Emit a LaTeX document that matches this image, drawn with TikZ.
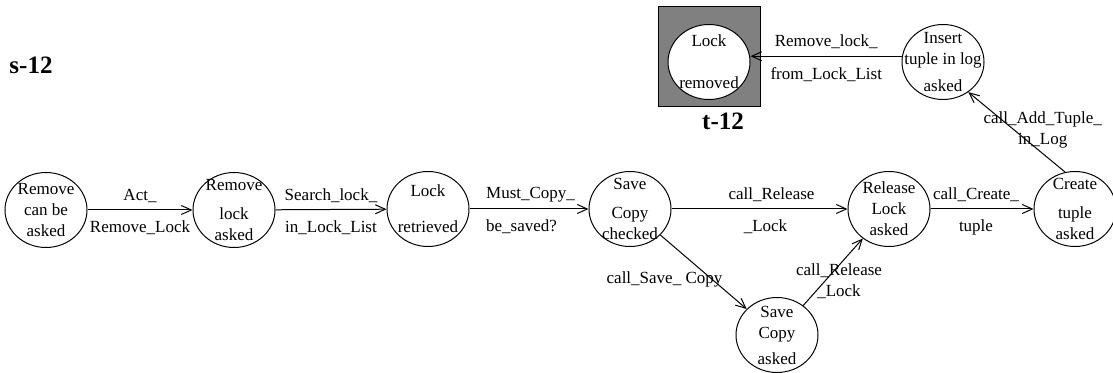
\documentclass[tikz,border=0pt]{standalone}
\usepackage{fontspec}
\setmainfont{Liberation Serif}
\usetikzlibrary{shapes.geometric,arrows.meta}
\tikzset{
  state/.style={draw,ellipse,minimum width=41pt,minimum height=37.5pt,inner sep=0pt},
  txt/.style={align=center,font=\fontsize{8.5}{10.5}\selectfont},
  trans/.style={-{Straight Barb[length=5pt,width=4.5pt]}},
}
\begin{document}
\begin{tikzpicture}[x=0.5pt,y=-0.5pt,line width=0.5pt]
  \useasboundingbox (0,0) rectangle (1113,373);
  \node[font=\bfseries\fontsize{12.5}{14}\selectfont] (s12) at (31,65) {s-12};
  % final state
  \node[draw,fill=gray,minimum width=51pt,minimum height=50pt,inner sep=0pt] (tbox) at (709,57) {};
  \node[state,fill=white,label={[txt]center:Lock\\[10.5pt]removed}] (T) at (709,62) {};
  \node[font=\bfseries\fontsize{12.5}{14}\selectfont] (t12) at (723,121) {t-12};
  % states
  \node[state,label={[txt]center:Remove\\can be\\asked}] (A) at (46,210) {};
  \node[state,label={[txt]center:Remove\\[4pt]lock\\asked}] (B) at (234,210) {};
  \node[state,label={[txt]center:Lock\\[7.5pt]retrieved}] (C) at (428,209) {};
  \node[state,label={[txt]center:Save\\[4pt]Copy\\checked}] (D) at (630,209) {};
  \node[state,label={[txt]center:Release\\Lock\\asked}] (E) at (889,209) {};
  \node[state,label={[txt]center:Create\\[4pt]tuple\\asked}] (F) at (1075,209) {};
  \node[state,label={[txt]center:Save\\Copy\\[2.5pt]asked}] (G) at (777,335) {};
  \node[state,label={[txt]center:Insert\\tuple in log\\[3pt]asked}] (H) at (943,62) {};
  % transitions
  \draw[trans] (A) -- (B) node[txt,midway,above]{Act\_} node[txt,midway,below=2pt]{Remove\_Lock};
  \draw[trans] (B) -- (C) node[txt,midway,above]{Search\_lock\_} node[txt,midway,below=2pt]{in\_Lock\_List};
  \draw[trans] (C) -- (D) node[txt,pos=0.08,above right]{Must\_Copy\_} node[txt,pos=0.08,below right,yshift=-2pt]{be\_saved?};
  \draw[trans] (D) -- (E) node[txt,midway,above,xshift=6pt]{call\_Release} node[txt,midway,below=2pt,xshift=3pt]{\_Lock};
  \draw[trans] (E) -- (F) node[txt,midway,above,xshift=-3pt]{call\_Create\_} node[txt,midway,below=2pt,xshift=-3pt]{tuple};
  \draw[trans] (D) -- (G) node[txt,midway,xshift=-19.5pt,yshift=-3.5pt]{call\_Save\_ Copy};
  \draw[trans] (G) -- (E) node[txt,midway,xshift=3pt,yshift=-4.5pt]{call\_Release\\\_Lock};
  \draw[trans] (F.105) -- (H.-50) node[txt,midway,xshift=13pt,yshift=1pt]{call\_Add\_Tuple\_\\in\_Log};
  \draw[trans] (H.172) -- (H.172 -| T.east) node[txt,midway,above]{Remove\_lock\_} node[txt,midway,below=2pt]{from\_Lock\_List};
\end{tikzpicture}
\end{document}
